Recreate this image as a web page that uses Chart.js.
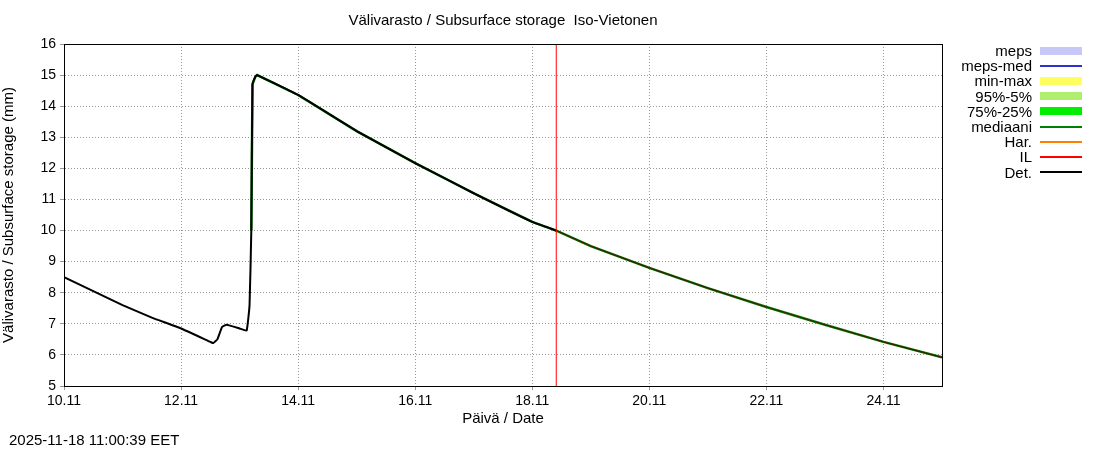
<!DOCTYPE html>
<html>
<head>
<meta charset="utf-8">
<script src="https://cdn.jsdelivr.net/npm/chart.js@4"></script>
<style>
  body { margin: 0; background: #fff; font-family: "Liberation Sans", Arial, sans-serif; }
  #wrap { position: relative; width: 1100px; height: 450px; }
  #title { position: absolute; top: 11px; left: 0; width: 1006px; text-align: center; font-size: 15px; }
  #stamp { position: absolute; left: 9px; top: 431px; font-size: 15px; }
  #legend { position: absolute; left: 950px; top: 43px; font-size: 15px; }
  .row { display: flex; align-items: center; height: 15.2px; }
  .row span { width: 82px; text-align: right; margin-right: 8px; }
  .row i { display: block; width: 42px; }
</style>
</head>
<body>
<div id="wrap">
  <div id="title">Välivarasto / Subsurface storage&nbsp; Iso-Vietonen</div>
  <canvas id="chart" width="1100" height="450"></canvas>
  <div id="legend"></div>
  <div id="stamp">2025-11-18 11:00:39 EET</div>
</div>
<script>
// days since 10.11 00:00
const detDays = [0, 0.5, 1, 1.5, 2, 2.5, 2.55, 2.62, 2.7, 2.78, 3.0, 3.12, 3.17, 3.2, 3.22, 3.27, 3.3, 4, 5, 6, 7, 8, 8.41];
const detVals = [8.5, 8.05, 7.6, 7.2, 6.85, 6.42, 6.38, 6.5, 6.9, 6.97, 6.85, 6.78, 7.6, 10, 14.7, 14.95, 15.0, 14.36, 13.2, 12.17, 11.2, 10.28, 10.0];
const fcDays = [8.41, 9, 10, 11, 12, 13, 14, 15];
const fcVals = [10.0, 9.5, 8.8, 8.15, 7.54, 6.97, 6.42, 5.92];
const forecastStart = 8.41;

const legendItems = [
  ['meps', '#c8c8f8', 8], ['meps-med', '#3030d0', 2], ['min-max', '#ffff60', 8],
  ['95%-5%', '#b0ee70', 8], ['75%-25%', '#00ee00', 8], ['mediaani', '#008000', 2],
  ['Har.', '#ff8000', 2], ['IL', '#ff0000', 2], ['Det.', '#000000', 2]
];
document.getElementById('legend').innerHTML = legendItems.map(([t, c, h]) =>
  `<div class="row"><span>${t}</span><i style="height:${h}px;background:${c}"></i></div>`).join('');

const toXY = (d, v) => d.map((x, i) => ({ x, y: v[i] }));
const medDays = detDays.slice(13).concat(fcDays.slice(1));
const medVals = detVals.slice(13).concat(fcVals.slice(1));

const redLine = {
  id: 'redLine',
  afterDatasetsDraw(chart) {
    const { ctx, chartArea, scales } = chart;
    const x = scales.x.getPixelForValue(forecastStart);
    ctx.save();
    ctx.strokeStyle = '#ff0000';
    ctx.lineWidth = 1;
    ctx.beginPath();
    ctx.moveTo(x, chartArea.top);
    ctx.lineTo(x, chartArea.bottom);
    ctx.stroke();
    ctx.restore();
  }
};

Chart.defaults.font.family = '"Liberation Sans", Arial, sans-serif';
Chart.defaults.font.size = 14;
Chart.defaults.color = '#000';

new Chart(document.getElementById('chart').getContext('2d'), {
  type: 'line',
  data: {
    datasets: [
      { label: 'Det.', data: toXY(detDays, detVals), borderColor: '#000', borderWidth: 2, pointRadius: 0, tension: 0.1 },
      { label: 'IL', data: toXY(fcDays, fcVals), borderColor: '#3a2000', borderWidth: 1.2, pointRadius: 0 },
      { label: 'mediaani', data: toXY(medDays, medVals), borderColor: '#008000', borderWidth: 2.5, pointRadius: 0, order: 5 }
    ]
  },
  options: {
    responsive: false,
    animation: false,
    layout: { padding: { top: 44, right: 158, left: 0, bottom: 22 } },
    plugins: { legend: { display: false }, tooltip: { enabled: false } },
    scales: {
      x: {
        type: 'linear', min: 0, max: 15,
        afterFit: s => { s.height = 42; },
        afterBuildTicks: s => { s.ticks = [0, 2, 4, 6, 8, 10, 12, 14].map(v => ({ value: v })); },
        ticks: { callback: v => (10 + v) + '.11', maxRotation: 0 },
        title: { display: true, text: 'Päivä / Date', font: { size: 15 }, padding: 0 },
        grid: { color: '#999', tickLength: 4 },
        border: { color: '#000', dash: [1, 2] }
      },
      y: {
        min: 5, max: 16,
        afterFit: s => { s.width = 64; },
        ticks: { stepSize: 1, padding: 4 },
        title: { display: true, text: 'Välivarasto / Subsurface storage (mm)', font: { size: 15 }, padding: 0 },
        grid: { color: '#999', tickLength: 4 },
        border: { color: '#000', dash: [1, 2] }
      }
    }
  },
  plugins: [redLine, {
    id: 'frame',
    afterDraw(chart) {
      const { ctx, chartArea: a } = chart;
      ctx.save();
      ctx.strokeStyle = '#000';
      ctx.lineWidth = 1;
      ctx.strokeRect(a.left + 0.5, a.top + 0.5, a.right - a.left, a.bottom - a.top);
      ctx.restore();
    }
  }]
});
</script>
</body>
</html>
